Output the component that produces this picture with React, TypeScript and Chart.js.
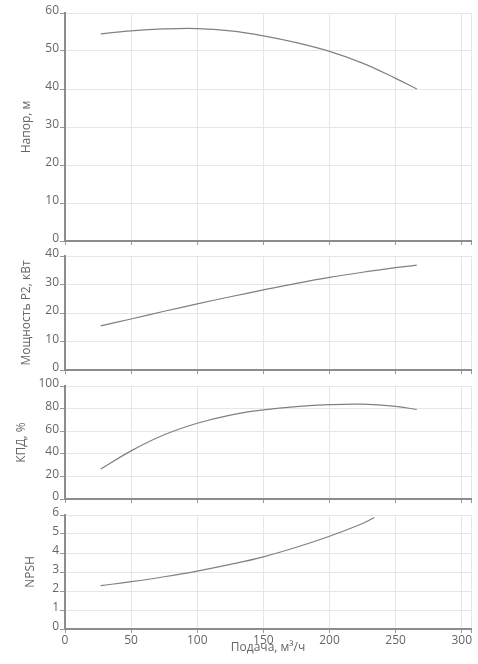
import React, { useEffect, useRef } from "react";
import { Chart, registerables } from "chart.js";

Chart.register(...registerables);

// ---- data ----
const flowTicks = [0, 50, 100, 150, 200, 250, 300];
const flowMax = 307;

const headFlow = [27, 50, 75, 100, 125, 150, 175, 200, 225, 250, 266];
const headValues = [54.5, 55.3, 55.8, 55.9, 55.3, 54.0, 52.2, 49.9, 46.8, 42.8, 40.0];

const powerFlow = [27, 50, 75, 100, 125, 150, 175, 200, 225, 250, 266];
const powerValues = [15.5, 17.9, 20.6, 23.2, 25.7, 28.1, 30.4, 32.5, 34.3, 35.9, 36.8];

const effFlow = [27, 50, 75, 100, 125, 150, 175, 200, 225, 250, 266];
const effValues = [26.5, 42.6, 56.8, 67, 74.3, 78.8, 81.8, 83.5, 83.9, 82, 79.2];

const npshFlow = [27, 50, 75, 100, 125, 150, 175, 200, 225, 234];
const npshValues = [2.28, 2.49, 2.75, 3.05, 3.4, 3.8, 4.3, 4.88, 5.55, 5.87];

const FONT = "'Open Sans', 'DejaVu Sans', sans-serif";

type PanelProps = {
  top: number;
  height: number;
  q: number[];
  v: number[];
  yMax: number;
  yStep: number;
  yTitle: string;
  yTitlePad: number;
  bottom?: boolean;
};

function Panel({ top, height, q, v, yMax, yStep, yTitle, yTitlePad, bottom }: PanelProps) {
  const ref = useRef<HTMLCanvasElement | null>(null);
  useEffect(() => {
    if (!ref.current) return;
    const chart = new Chart(ref.current, {
      type: "line",
      data: {
        datasets: [
          {
            data: q.map((x, i) => ({ x, y: v[i] })),
            borderColor: "#808080",
            borderWidth: 1.2,
            pointRadius: 0,
            tension: 0.4,
            fill: false,
          },
        ],
      },
      options: {
        animation: false,
        responsive: true,
        maintainAspectRatio: false,
        layout: { padding: { top: 13, right: 7, left: 0, bottom: 0 } },
        plugins: { legend: { display: false }, tooltip: { enabled: false } },
        scales: {
          x: {
            type: "linear",
            min: 0,
            max: flowMax,
            afterBuildTicks: (s: any) => {
              s.ticks = [...flowTicks.map((t) => ({ value: t })), { value: flowMax }];
            },
            afterFit: (s: any) => {
              s.height = bottom ? 35 : 9;
            },
            ticks: {
              display: !!bottom,
              autoSkip: false,
              maxRotation: 0,
              padding: 0,
              color: "#666",
              font: { family: FONT, size: 12 },
              callback: (val: any) => (flowTicks.includes(Number(val)) ? String(val) : ""),
            },
            grid: { color: "#e6e6e6", tickColor: "#999", tickLength: 4, lineWidth: 1 },
            border: { color: "#8c8c8c", width: 2 },
            title: {
              display: !!bottom,
              text: "Подача, м³/ч",
              color: "#666",
              font: { family: FONT, size: 12 },
              padding: { top: 0, bottom: 9 },
            },
          },
          y: {
            type: "linear",
            min: 0,
            max: yMax,
            afterFit: (s: any) => {
              s.width = 65;
            },
            ticks: {
              stepSize: yStep,
              padding: 1,
              labelOffset: -2,
              color: "#666",
              font: { family: FONT, size: 12 },
            },
            grid: { color: "#e6e6e6", tickColor: "#999", tickLength: 5 },
            border: { color: "#8c8c8c", width: 2 },
            title: {
              display: true,
              text: yTitle,
              color: "#666",
              font: { family: FONT, size: 12 },
              padding: { top: yTitlePad, bottom: 0 },
            },
          },
        },
      } as any,
    });
    return () => chart.destroy();
  }, []);
  return (
    <div style={{ position: "absolute", left: 0, top, width: 478, height }}>
      <canvas ref={ref} />
    </div>
  );
}

export default function App() {
  return (
    <div style={{ position: "absolute", left: 0, top: 0, width: 478, height: 664, background: "#fff" }}>
      <Panel top={0} height={250} q={headFlow} v={headValues} yMax={60} yStep={10} yTitle="Напор, м" yTitlePad={19} />
      <Panel top={243} height={136} q={powerFlow} v={powerValues} yMax={40} yStep={10} yTitle="Мощность P2, кВт" yTitlePad={19} />
      <Panel top={373} height={135} q={effFlow} v={effValues} yMax={100} yStep={20} yTitle="КПД, %" yTitlePad={14} />
      <Panel top={502} height={162} q={npshFlow} v={npshValues} yMax={6} yStep={1} yTitle="NPSH" yTitlePad={23} bottom />
    </div>
  );
}
